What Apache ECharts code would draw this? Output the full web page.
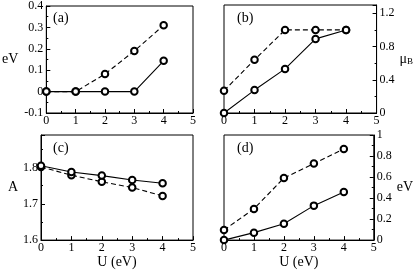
<!DOCTYPE html>
<html><head><meta charset="utf-8">
<script src="https://cdn.jsdelivr.net/npm/echarts@6/dist/echarts.min.js"></script>
<style>html,body{margin:0;padding:0;background:#fff}#c{width:415px;height:270px}</style>
</head><body><div id="c"></div>
<script>
const U = [0, 1, 2, 3, 4];
const xTicks = [0, 1, 2, 3, 4, 5];
// panel (a) eV
const aSolid = [0, 0, 0, 0, 0.144];
const aDashed = [0, 0, 0.082, 0.19, 0.31];
const aTicks = [-0.1, 0, 0.1, 0.2, 0.3, 0.4];
// panel (b) μB
const bSolid = [0, 0.276, 0.531, 0.892, 1.0];
const bDashed = [0.268, 0.64, 1.0, 1.0, 1.0];
const bTicks = [0, 0.4, 0.8, 1.2];
// panel (c) A
const cSolid = [1.805, 1.788, 1.778, 1.766, 1.757];
const cDashed = [1.802, 1.779, 1.761, 1.745, 1.722];
const cTicks = [1.6, 1.7, 1.8];
// panel (d) eV
const dSolid = [0, 0.071, 0.155, 0.328, 0.458];
const dDashed = [0.096, 0.297, 0.591, 0.728, 0.867];
const dTicks = [0, 0.2, 0.4, 0.6, 0.8, 1];
const panelLabels = ['(a)', '(b)', '(c)', '(d)'];

const FONT = '"Liberation Serif", "DejaVu Serif", serif';
const chart = echarts.init(document.getElementById('c'), null, {renderer: 'canvas'});

const grids = [
  {left: 41, top: 5, width: 152, height: 108},
  {left: 224, top: 5, width: 153, height: 108},
  {left: 41, top: 135, width: 152, height: 108},
  {left: 224, top: 135, width: 153, height: 108}
].map(g => Object.assign(g, {show: true, borderColor: '#000', borderWidth: 1, backgroundColor: 'transparent'}));

function fmtList(list) {
  return function (v) {
    for (const t of list) if (Math.abs(t - v) < 1e-6) return String(t);
    return '';
  };
}
const axisCommon = {
  axisLine: {show: true, onZero: false, lineStyle: {color: '#000', width: 1}},
  axisTick: {show: true, inside: true, length: 4, lineStyle: {color: '#000'}},
  minorTick: {show: true, splitNumber: 2, length: 2, lineStyle: {color: '#000'}},
  splitLine: {show: false},
  minorSplitLine: {show: false}
};
function xAxis(i, withName) {
  return Object.assign({}, axisCommon, {
    type: 'value', gridIndex: i, min: 0, max: 5, interval: 1,
    axisLabel: {fontFamily: FONT, fontSize: 12, color: '#000', margin: 2, formatter: fmtList(xTicks)},
    name: withName ? 'U (eV)' : '', nameLocation: 'middle', nameGap: 14,
    nameTextStyle: {fontFamily: FONT, fontSize: 14, color: '#000'}
  });
}
function yAxis(i, pos, min, max, interval, ticks, name, gap, rich) {
  return Object.assign({}, axisCommon, {
    type: 'value', gridIndex: i, position: pos, min: min, max: max, interval: interval,
    axisLabel: {fontFamily: FONT, fontSize: 12, color: '#000', margin: 3, formatter: fmtList(ticks)},
    name: name, nameLocation: 'middle', nameRotate: 0, nameGap: gap,
    nameTextStyle: Object.assign({fontFamily: FONT, fontSize: 14, color: '#000'}, rich ? {rich: rich} : {})
  });
}
function series(i, vals, dashed) {
  return {
    type: 'line', xAxisIndex: i, yAxisIndex: i,
    data: U.map((u, k) => [u, vals[k]]),
    symbol: 'emptyCircle', symbolSize: 6.5,
    itemStyle: {color: '#000', borderColor: '#000', borderWidth: 0.75},
    lineStyle: {color: '#000', width: 1.1, type: dashed ? [5, 3] : 'solid'},
    animation: false, z: dashed ? 2 : 3
  };
}
const muRich = {
  m: {fontFamily: FONT, fontSize: 14, color: '#000'},
  s: {fontFamily: FONT, fontSize: 9, color: '#000', verticalAlign: 'bottom', padding: [6, 0, 0, 0]}
};
const labelPos = [[53, 11], [237, 11], [53, 141], [237, 141]];
chart.setOption({
  animation: false,
  grid: grids,
  xAxis: [xAxis(0, false), xAxis(1, false), xAxis(2, true), xAxis(3, true)],
  yAxis: [
    yAxis(0, 'left', -0.1, 0.4, 0.1, aTicks, 'eV', 28),
    yAxis(1, 'right', 0, 1.3, 0.4, bTicks, '{m|μ}{s|B}', 18, muRich),
    yAxis(2, 'left', 1.6, 1.89, 0.1, cTicks, 'A', 21),
    yAxis(3, 'right', 0, 1, 0.2, dTicks, 'eV', 21)
  ],
  series: [
    series(0, aDashed, true), series(0, aSolid, false),
    series(1, bDashed, true), series(1, bSolid, false),
    series(2, cDashed, true), series(2, cSolid, false),
    series(3, dDashed, true), series(3, dSolid, false)
  ],
  graphic: panelLabels.map((t, k) => ({
    type: 'text', left: labelPos[k][0], top: labelPos[k][1],
    style: {text: t, font: '14px ' + FONT, fill: '#000'}
  }))
});
</script></body></html>
